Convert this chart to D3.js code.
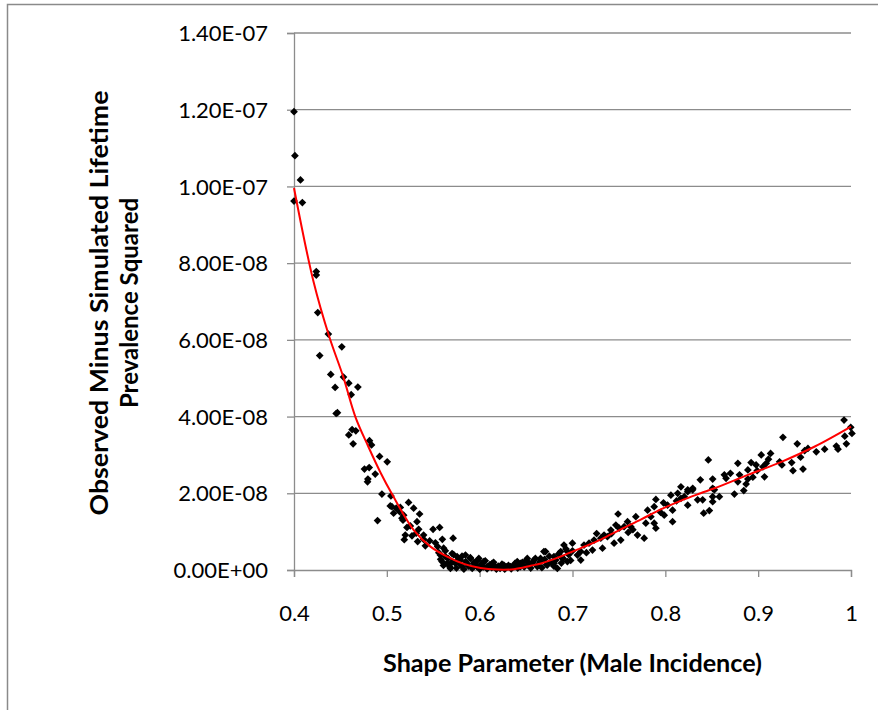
<!DOCTYPE html>
<html>
<head>
<meta charset="utf-8">
<script src="https://cdn.jsdelivr.net/npm/d3@7/dist/d3.min.js"></script>
<style>
  html, body { margin: 0; padding: 0; background: #fff; }
  svg { display: block; }
</style>
</head>
<body>
<svg id="chart" width="878" height="710"></svg>
<script>
// ---------- DATA ----------
const xTickValues = [0.4, 0.5, 0.6, 0.7, 0.8, 0.9, 1.0];
const xTickLabels = ["0.4", "0.5", "0.6", "0.7", "0.8", "0.9", "1"];
const yTickValues = [0, 2e-8, 4e-8, 6e-8, 8e-8, 1e-7, 1.2e-7, 1.4e-7];
const yTickLabels = ["0.00E+00", "2.00E-08", "4.00E-08", "6.00E-08", "8.00E-08", "1.00E-07", "1.20E-07", "1.40E-07"];

const xTitle = "Shape Parameter (Male Incidence)";
const yTitleLines = ["Observed Minus Simulated Lifetime", "Prevalence Squared"];

// scatter points: shape parameter, squared difference (in units of 1e-8)
const pointX = [
  0.400,0.401,0.407,0.400,0.409,0.424,0.424,
  0.4256,0.437,0.4515,0.4277,0.4396,0.4533,0.459,0.4688,0.4443,0.4616,0.4454,0.4468,0.4626,0.4666,0.459,0.4637,0.4813,0.4835,0.4922,0.5004,0.4759,0.481,0.4875,0.4796,
  0.4792,0.4947,0.5044,0.5055,0.5101,0.5138,0.5234,0.5289,0.5181,0.5163,0.5353,0.490,0.5325,0.5217,0.5253,0.5199,0.5271,0.5343,0.5188,0.5396,
  0.5037,0.5145,0.5073,0.5174,0.5317,0.5332,0.5396,0.5415,0.5498,0.5569,0.5461,0.5523,0.5598,0.5714,0.5547,0.5612,0.5577,0.5631,0.5595,0.5649,0.5685,0.5703,0.5757,0.574,0.5793,0.5847,0.5865,0.59,0.5811,0.5937,0.5991,0.5973,0.6045,0.6081,0.6135,0.6171,0.626,0.6333,0.6405,0.644,0.6513,0.653,0.671,
  0.556,0.558,0.561,0.563,0.566,0.568,0.570,0.572,0.575,0.577,0.579,0.581,0.583,0.585,0.588,0.590,0.592,0.594,0.596,0.598,0.600,0.602,0.604,0.606,0.608,0.611,0.613,0.615,0.618,0.620,0.622,0.624,0.627,0.629,0.631,0.634,0.636,0.638,0.641,0.643,0.646,0.648,0.650,0.652,0.655,0.657,0.660,0.662,0.665,0.667,0.670,0.672,0.675,0.677,0.680,0.682,0.685,0.688,0.690,0.693,0.696,0.698,
  0.8168,0.8241,0.8295,0.8133,0.8204,0.7898,0.788,0.7809,0.8024,0.8078,0.7988,0.8078,0.7844,0.788,0.7898,0.779,0.7491,0.7682,0.7593,0.7467,0.7503,0.7556,0.77,0.7772,0.752,0.7448,0.734,0.7305,0.7232,0.7178,0.7323,0.7215,0.7124,0.7089,0.6999,0.6908,0.7053,0.6945,0.6873,0.6891,0.6692,0.68,0.68,0.6837,0.6656,0.6584,0.6513,0.6441,0.6729,0.6621,0.6945,0.7089,0.7413,0.7628,0.7376,
  0.726,0.742,0.765,0.795,0.798,0.812,0.806,0.760,0.715,0.700,
  0.9267,0.9421,0.9925,0.9997,1.001,0.9933,0.995,0.9842,0.986,0.9716,0.9626,0.9536,0.95,0.9457,0.9483,0.9375,0.9231,0.9256,0.9134,0.9033,0.9111,0.9087,0.9051,0.8924,0.8978,0.8781,0.8889,0.8989,0.9068,0.8943,0.8799,0.8889,0.8701,0.8636,0.8654,0.8781,0.887,0.8845,0.8744,0.8463,0.8377,0.851,0.851,0.8528,0.8582,0.851,0.851,0.8474,0.8413,0.8402,0.8348,0.8294,0.8241,0.8241,0.8168,0.9361
];
const pointY = [
  11.95,10.80,10.17,9.62,9.58,7.78,7.69,
  6.71,6.15,5.82,5.59,5.10,5.03,4.87,4.77,4.76,4.57,4.08,4.10,3.66,3.63,3.52,3.29,3.37,3.26,2.96,2.82,2.63,2.67,2.50,2.37,
  2.30,1.98,1.93,1.65,1.61,1.52,1.76,1.61,1.43,1.35,1.46,1.29,1.26,1.11,1.15,0.91,0.89,1.06,0.79,0.80,
  1.67,1.63,1.48,1.30,0.96,0.74,0.91,0.63,1.06,1.11,0.76,0.71,0.80,0.83,0.61,0.57,0.39,0.35,0.22,0.17,0.04,0.43,0.35,0.17,0.26,0.39,0.17,0.30,0.09,0.17,0.30,0.09,0.22,0.09,0.17,0.09,0.13,0.09,0.22,0.09,0.30,0.13,0.48,
  0.45,0.28,0.12,0.50,0.30,0.08,0.20,0.40,0.05,0.28,0.15,0.36,0.02,0.22,0.10,0.32,0.04,0.20,0.12,0.26,0.02,0.16,0.08,0.24,0.03,0.14,0.06,0.20,0.02,0.10,0.04,0.15,0.02,0.08,0.12,0.03,0.10,0.17,0.05,0.12,0.20,0.08,0.25,0.14,0.05,0.20,0.30,0.12,0.22,0.06,0.28,0.14,0.36,0.20,0.10,0.26,0.42,0.18,0.30,0.55,0.40,0.25,
  2.17,2.09,2.13,2.00,1.91,1.84,1.65,1.56,1.69,1.56,1.43,1.26,1.39,1.22,1.09,1.22,1.46,1.39,1.26,1.17,1.09,1.13,0.91,0.83,0.78,0.70,0.91,0.83,0.78,0.70,0.57,0.52,0.65,0.48,0.70,0.65,0.39,0.48,0.48,0.30,0.48,0.35,0.17,0.04,0.30,0.26,0.22,0.17,0.13,0.09,0.22,0.26,1.04,1.13,0.87,
  0.95,0.95,1.05,1.50,1.75,1.80,1.95,0.98,0.45,0.50,
  3.46,3.29,3.91,3.72,3.56,3.49,3.29,3.23,3.15,3.15,3.08,3.17,3.11,2.94,2.63,2.59,2.82,2.74,3.04,3.00,2.89,2.78,2.69,2.80,2.74,2.78,2.61,2.59,2.43,2.42,2.48,2.37,2.52,2.48,2.39,2.30,2.24,2.07,1.98,2.87,2.35,2.37,2.13,2.09,1.91,1.91,1.78,1.55,1.48,1.83,1.83,2.09,2.04,1.69,1.87,2.80
];

// red trendline (shape parameter, value in units of 1e-8)
const trendX = [0.400,0.421,0.438,0.453,0.466,0.480,0.493,0.506,0.529,0.547,0.565,0.583,0.601,0.619,0.637,0.655,0.666,0.687,0.709,0.731,0.752,0.774,0.795,0.817,0.838,0.853,0.889,0.925,0.961,1.000];
const trendY = [9.96,7.52,6.08,5.04,4.00,3.22,2.55,1.96,1.04,0.61,0.35,0.16,0.05,0.01,0.02,0.11,0.17,0.35,0.57,0.80,1.06,1.32,1.58,1.81,2.00,2.13,2.48,2.82,3.22,3.74];
const unit = 1e-8;

// ---------- CHART ----------
const svg = d3.select("#chart");
const gridColor = "#8c8c8c";
const font = "Lato, 'Open Sans', 'DejaVu Sans', sans-serif";

const x = d3.scaleLinear().domain([0.4, 1.0]).range([294, 851]);
const y = d3.scaleLinear().domain([0, 1.4e-7]).range([570, 33]);

// outer chart border (only left and top visible)
svg.append("path")
  .attr("d", "M7.5,712 V4.5 H880")
  .attr("fill", "none").attr("stroke", "#8a8a8a").attr("stroke-width", 1.5);

// horizontal gridlines
svg.append("g").selectAll("line")
  .data(yTickValues.filter(v => v > 0))
  .join("line")
  .attr("x1", x(0.4)).attr("x2", x(1.0))
  .attr("y1", d => y(d)).attr("y2", d => y(d))
  .attr("stroke", gridColor).attr("stroke-width", 1.3);

// Y axis
const yAxis = d3.axisLeft(y).tickValues(yTickValues)
  .tickFormat((d, i) => yTickLabels[i]).tickSize(7).tickPadding(19);
const gy = svg.append("g").attr("transform", `translate(${x(0.4)},0)`).call(yAxis);
gy.select(".domain").attr("stroke", gridColor).attr("stroke-width", 1.3);
gy.selectAll(".tick line").attr("stroke", gridColor).attr("stroke-width", 1.3);
gy.selectAll(".tick text").attr("font-family", font).attr("font-size", 22).attr("fill", "#000")
  .attr("dy", "0.35em");

// X axis
const xAxis = d3.axisBottom(x).tickValues(xTickValues)
  .tickFormat((d, i) => xTickLabels[i]).tickSize(7).tickPadding(0);
const gx = svg.append("g").attr("transform", `translate(0,${y(0)})`).call(xAxis);
gx.select(".domain").attr("stroke", gridColor).attr("stroke-width", 1.3);
gx.selectAll(".tick line").attr("stroke", gridColor).attr("stroke-width", 1.3);
gx.selectAll(".tick text").attr("font-family", font).attr("font-size", 22).attr("fill", "#000")
  .attr("y", 0).attr("dy", 51);

// scatter points: black diamonds
const diamond = d3.symbol().type(d3.symbolSquare).size(30);
const pts = pointX.map((v, i) => ({ x: v, y: pointY[i] * unit }));
svg.append("g").selectAll("path")
  .data(pts)
  .join("path")
  .attr("d", diamond)
  .attr("transform", d => `translate(${x(d.x)},${y(d.y)}) rotate(45)`)
  .attr("fill", "#000");

// trendline
const trend = trendX.map((v, i) => ({ x: v, y: trendY[i] * unit }));
svg.append("path")
  .datum(trend)
  .attr("d", d3.line().x(d => x(d.x)).y(d => y(d.y)).curve(d3.curveCatmullRom.alpha(0.5)))
  .attr("fill", "none").attr("stroke", "#ff0000").attr("stroke-width", 2);

// axis titles
svg.append("text")
  .attr("x", 572.5).attr("y", 672)
  .attr("text-anchor", "middle")
  .attr("font-family", font).attr("font-weight", "bold").attr("font-size", 24)
  .attr("textLength", 379).attr("lengthAdjust", "spacingAndGlyphs")
  .text(xTitle);

const yTitleX = [108, 138];
yTitleLines.forEach((t, i) => {
  const tx = svg.append("text")
    .attr("transform", `translate(${yTitleX[i]},303) rotate(-90)`)
    .attr("text-anchor", "middle")
    .attr("font-family", font).attr("font-weight", "bold").attr("font-size", 24)
    .text(t);
  if (i === 0) tx.attr("textLength", 425).attr("lengthAdjust", "spacingAndGlyphs");
});
</script>
</body>
</html>
